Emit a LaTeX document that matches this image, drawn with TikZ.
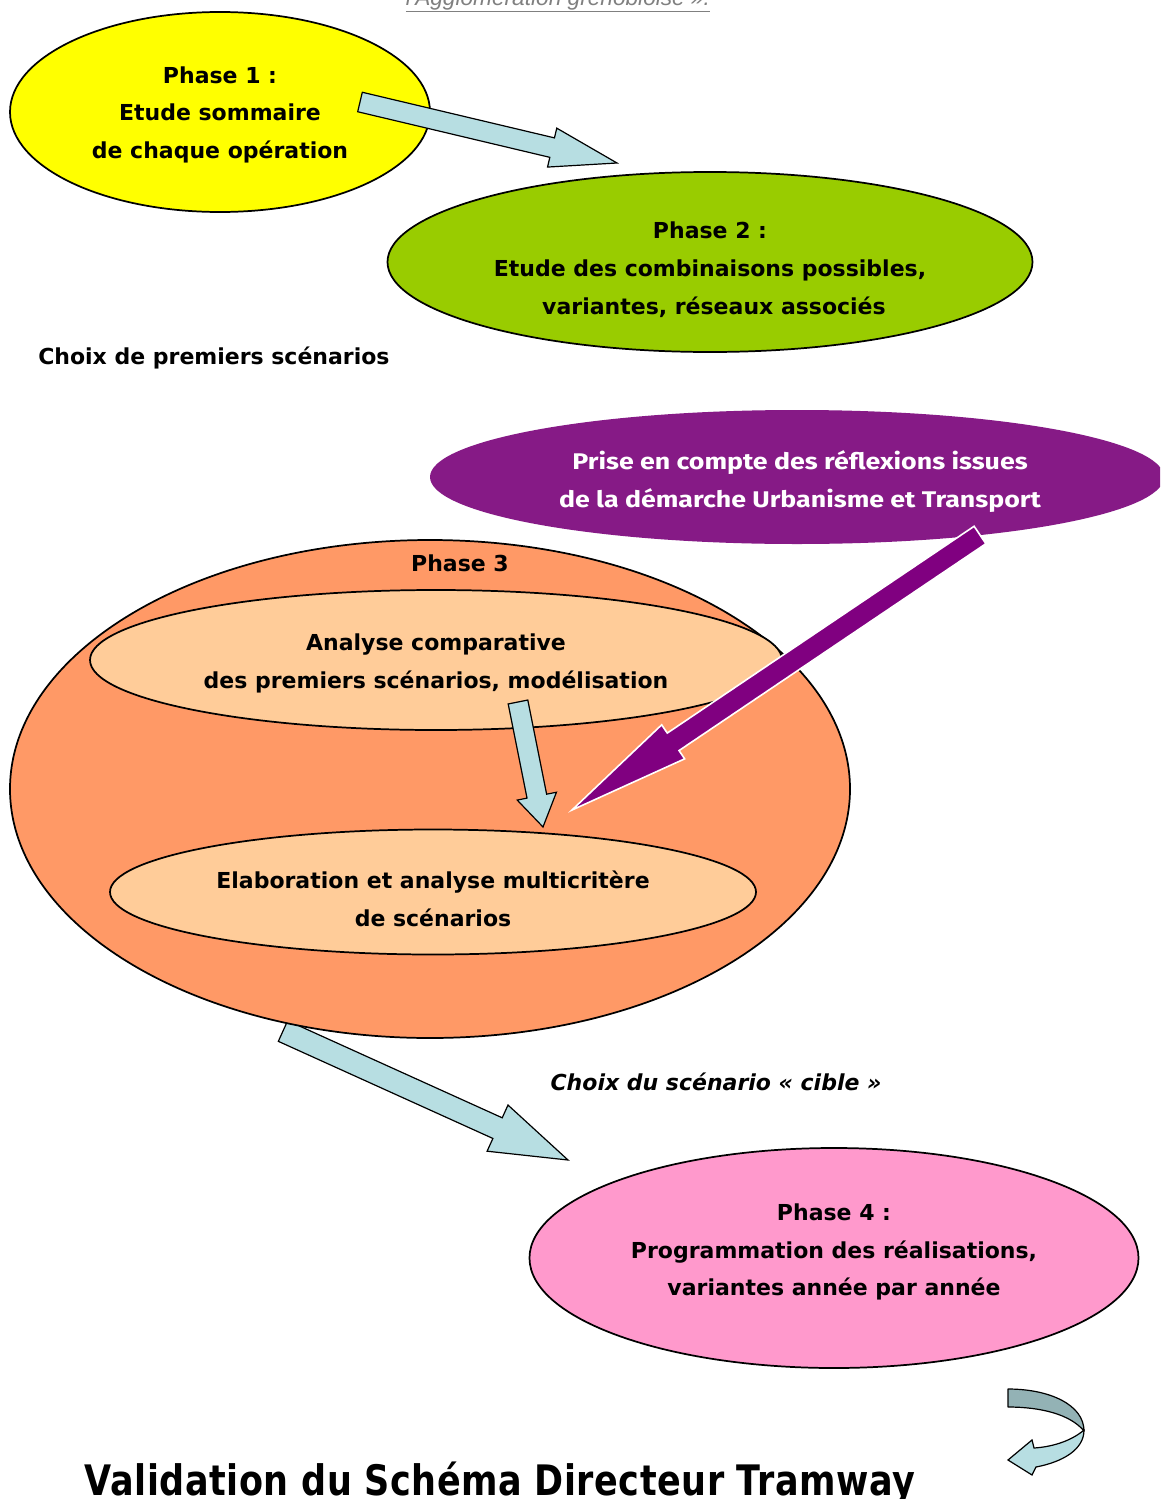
\documentclass[tikz,border=0pt]{standalone}
\usepackage{fontspec}
\setmainfont{DejaVu Sans}
\newfontfamily\purplefont{Fira Sans}[FakeStretch=1.18]
\newfontfamily\grayfont{Liberation Sans}
\newfontfamily\titlefont{DejaVu Sans}[LetterSpace=1.5]
\usetikzlibrary{shapes.geometric,calc}
\definecolor{cyel}{RGB}{255,255,0}
\definecolor{cgreen}{RGB}{153,204,0}
\definecolor{cpurpleell}{RGB}{134,26,134}
\definecolor{cpurple}{RGB}{128,0,128}
\definecolor{corange}{RGB}{255,153,102}
\definecolor{clight}{RGB}{255,204,153}
\definecolor{cpink}{RGB}{255,153,204}
\definecolor{cblue}{RGB}{183,222,226}
\definecolor{cbluedark}{RGB}{147,178,181}
\definecolor{cgray}{RGB}{128,128,128}
\newcommand\blockarrow[6]{%
  \coordinate (#1-n) at ($(#2)!#5!(#1)$);
  \draw[#6] ($(#1)!#3!90:(#2)$) -- ($(#1-n)!#3!90:(#2)$) -- ($(#1-n)!#4!90:(#2)$) -- (#2)
    -- ($(#1-n)!#4!-90:(#2)$) -- ($(#1-n)!#3!-90:(#2)$) -- ($(#1)!#3!-90:(#2)$) -- cycle;}
\begin{document}
\begin{tikzpicture}[x=0.75pt,y=-0.75pt,
  ell/.style={ellipse, draw=black, line width=1.3pt, inner sep=0pt, outer sep=0pt},
  txt/.style={font=\bfseries\fontsize{16.5}{20}\selectfont, anchor=base, inner sep=0pt},
  ptxt/.style={font=\purplefont\bfseries\fontsize{17}{20}\selectfont, text=white, anchor=base, inner sep=0pt},
  bluearrow/.style={draw=black, line width=0.9pt, fill=cblue, line join=miter},
  purplearrow/.style={draw=white, line width=1.2pt, fill=cpurple, line join=miter}]
\useasboundingbox (0,0) rectangle (1160,1499);
\fill[white] (0,0) rectangle (1160,1499);
\clip (0,0) rectangle (1160,1499);

% top clipped text
\node[anchor=base, inner sep=0pt, font=\grayfont\itshape\fontsize{17}{20}\selectfont, text=cgray] (toptxt) at (558,5) {\underline{l'Agglomération grenobloise ».}};

% Phase 1
\node[ell, fill=cyel, minimum width=315pt, minimum height=150pt] (p1) at (220,112) {};
\node[txt] (p1a) at (220,83) {Phase 1 :};
\node[txt] (p1b) at (220,120) {Etude sommaire};
\node[txt] (p1c) at (220,158) {de chaque opération};

% arrow 1
\coordinate (a1t) at (360,102);
\coordinate (a1h) at (617,163);
\blockarrow{a1t}{a1h}{7.5pt}{15pt}{50pt}{bluearrow}

% Phase 2
\node[ell, fill=cgreen, minimum width=483.75pt, minimum height=135pt] (p2) at (710,262) {};
\node[txt] (p2a) at (710,238) {Phase 2 :};
\node[txt] (p2b) at (710,276) {Etude des combinaisons possibles,};
\node[txt] (p2c) at (714,314) {variantes, réseaux associés};

\node[txt, anchor=base west] (choix1) at (38,364) {Choix de premiers scénarios};

% purple ellipse
\node[ell, draw=none, fill=cpurpleell, minimum width=550.5pt, minimum height=100.5pt] (pu) at (797,477) {};
\node[ptxt] (pua) at (800,469) {Prise en compte des réflexions issues};
\node[ptxt] (pub) at (800,507) {de la démarche Urbanisme et Transport};

% arrow 4 (behind phase 3)
\coordinate (a4t) at (283,1031);
\coordinate (a4h) at (568,1160);
\blockarrow{a4t}{a4h}{8.5pt}{19pt}{58pt}{bluearrow}

% Phase 3
\node[ell, fill=corange, minimum width=630pt, minimum height=373.5pt] (p3) at (430,789) {};
\node[txt] (p3a) at (460,571) {Phase 3};
\node[ell, fill=clight, minimum width=519pt, minimum height=105pt] (p3i) at (436,660) {};
\node[txt] (p3ia) at (436,650) {Analyse comparative};
\node[txt] (p3ib) at (436,688) {des premiers scénarios, modélisation};
\node[ell, fill=clight, minimum width=484.5pt, minimum height=93.75pt] (p3j) at (433,892) {};
\node[txt] (p3ja) at (433,888) {Elaboration et analyse multicritère};
\node[txt] (p3jb) at (433,926) {de scénarios};

% arrow 2 (down)
\coordinate (a2t) at (518,702);
\coordinate (a2h) at (543,827);
\blockarrow{a2t}{a2h}{7.5pt}{15pt}{23.6pt}{bluearrow}

% purple arrow
\coordinate (a3t) at (980,535);
\coordinate (a3h) at (572,810);
\blockarrow{a3t}{a3h}{7.9pt}{15.4pt}{91.5pt}{purplearrow}

\node[txt, font=\bfseries\itshape\fontsize{16.5}{20}\selectfont] (choix2) at (716,1090) {Choix du scénario « cible »};

% Phase 4
\node[ell, fill=cpink, minimum width=456.75pt, minimum height=165pt] (p4) at (834,1258) {};
\node[txt] (p4a) at (834,1220) {Phase 4 :};
\node[txt] (p4b) at (834,1258) {Programmation des réalisations,};
\node[txt] (p4c) at (834,1295) {variantes année par année};

% curved arrow
\draw[fill=cbluedark, line width=0.9pt, line join=round] (1008,1389) .. controls (1050,1389) and (1084,1405) .. (1084,1431)
  .. controls (1070,1414) and (1040,1407) .. (1008,1407) -- cycle;
\draw[fill=cblue, line width=0.9pt, line join=miter] (1084,1430) .. controls (1070,1442) and (1050,1447) .. (1034,1448)
  -- (1032,1440) -- (1008,1460) -- (1032,1475) -- (1036,1467)
  .. controls (1062,1462) and (1084,1450) .. (1084,1430) -- cycle;

% title
\node[anchor=base, inner sep=0pt] (title) at (500,1495) {\scalebox{1}[1.2]{\titlefont\bfseries\fontsize{26.25}{30}\selectfont Validation du Schéma Directeur Tramway}};
\end{tikzpicture}
\end{document}
